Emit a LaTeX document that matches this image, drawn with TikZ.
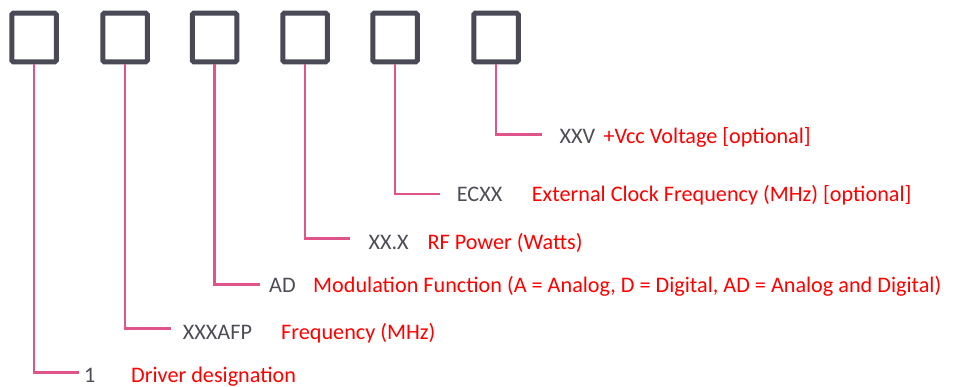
\documentclass[tikz,border=0pt]{standalone}
\usepackage{fontspec}
\setmainfont{Carlito}
\usetikzlibrary{positioning}
\definecolor{boxgray}{RGB}{74,74,86}
\definecolor{leadpink}{RGB}{224,84,140}
\definecolor{codegray}{RGB}{77,77,87}
\definecolor{descred}{RGB}{255,0,0}
\tikzset{digit/.style = {draw=boxgray, line width=5pt, rounded corners=1.5pt,
                         minimum width=44.5pt, minimum height=48.6pt, inner sep=0}}
\tikzset{lead/.style = {draw=leadpink, line width=2.5pt}}
\tikzset{code/.style = {text=codegray, anchor=base west, inner sep=0,
                        font=\fontsize{22.2}{26}\selectfont}}
\tikzset{desc/.style = {text=descred, anchor=base west, inner sep=0,
                        font=\fontsize{22.2}{26}\selectfont}}

\begin{document}
\begin{tikzpicture}[x=1pt,y=-1pt]
      \useasboundingbox (0,0) rectangle (954,386);

      % the six fields
      \node[digit] (b1) at (34,37.5) {};
      \node[digit] (b2) at (125,37.5) {};
      \node[digit] (b3) at (214.5,37.5) {};
      \node[digit] (b4) at (305,37.5) {};
      \node[digit] (b5) at (395,37.5) {};
      \node[digit] (b6) at (496,37.5) {};

      % ends of the leaders
      \coordinate (c1) at (79,372.3);
      \coordinate (c2) at (170.7,328.3);
      \coordinate (c3) at (260,284.7);
      \coordinate (c4) at (350,238.3);
      \coordinate (c5) at (440,194);
      \coordinate (c6) at (541.7,134.3);

      \draw[lead] (b1.south) |- (c1);
      \draw[lead] (b2.south) |- (c2);
      \draw[lead] (b3.south) |- (c3);
      \draw[lead] (b4.south) |- (c4);
      \draw[lead] (b5.south) |- (c5);
      \draw[lead] (b6.south) |- (c6);

      % codes and meanings
      \node[code] (k1) at (84,382.7) {1};
      \node[desc] (d1) at (131,382.7) {Driver designation};
      \node[code] (k2) at (182.7,339.3) {XXXAFP};
      \node[desc] (d2) at (281,339.3) {Frequency (MHz)};
      \node[code] (k3) at (269,292.3) {AD};
      \node[desc] (d3) at (313,292.3)
        {Modulation Function (A = Analog, D = Digital, AD = Analog and Digital)};
      \node[code] (k4) at (368.3,249.3) {XX.X};
      \node[desc] (d4) at (427.3,249.3) {RF Power (Watts)};
      \node[code] (k5) at (456.7,201) {ECXX};
      \node[desc] (d5) at (531.7,201) {External Clock Frequency (MHz) [optional]};
      \node[code] (k6) at (559.3,143.3) {XXV};
      \node[desc] (d6) at (603.3,143.3) {+Vcc Voltage [optional]};
\end{tikzpicture}
\end{document}
